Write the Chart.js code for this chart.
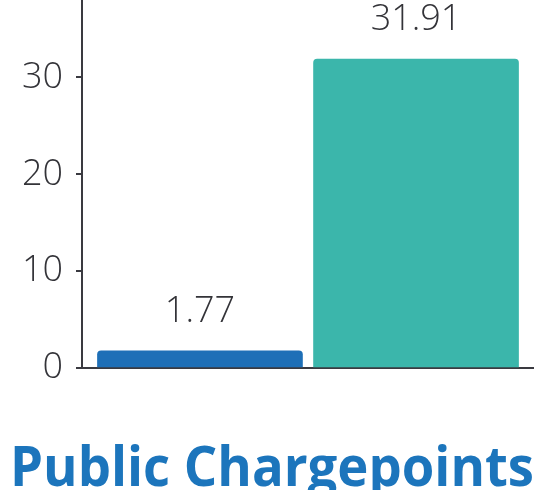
<!DOCTYPE html>
<html>
<head>
<meta charset="utf-8">
<style>
  html, body { margin: 0; padding: 0; background: #fff; overflow: hidden; }
  #wrap { width: 534px; height: 490px; }
</style>
<script src="https://cdn.jsdelivr.net/npm/chart.js@4"></script>
</head>
<body>
<div id="wrap"><canvas id="grafico" width="534" height="490"></canvas></div>
<script>
// data
const categories = ['Series 1', 'Series 2'];
const values = [1.77, 31.91];
const barColors = ['#1e6fb7', '#3bb6ab'];
const yTicks = [0, 10, 20, 30];
const chartTitle = 'Public Chargepoints';

const textColor = '#333338';
const axisColor = '#3a3a40';
const tickFont = { family: 'Open Sans', size: 36, weight: '300' };

// value labels above the bars
const valueLabels = {
    id: 'valueLabels',
    afterDatasetsDraw(chart) {
        const ctx = chart.ctx;
        const meta = chart.getDatasetMeta(0);
        ctx.save();
        ctx.font = '300 36px "Open Sans"';
        ctx.fillStyle = textColor;
        ctx.textAlign = 'center';
        ctx.textBaseline = 'alphabetic';
        meta.data.forEach((bar, i) => {
            ctx.fillText(values[i].toFixed(2), bar.x, bar.y - 29);
        });
        ctx.restore();
    }
};

const ctx = document.getElementById('grafico').getContext('2d');

const myChart = new Chart(ctx, {
    type: 'bar',
    data: {
        labels: categories,
        datasets: [{
            label: chartTitle,
            data: values.map((v, i) => ({ x: i, y: v })),
            backgroundColor: barColors,
            borderRadius: 4,
            borderSkipped: 'start',
            barThickness: 205,
        }],
    },
    options: {
        responsive: false,
        animation: false,
        layout: { padding: { left: 10, right: 0, top: 0, bottom: 0 } },
        plugins: {
            legend: { display: false },
            tooltip: { enabled: false },
            title: {
                display: true,
                text: chartTitle,
                position: 'bottom',
                align: 'start',
                color: '#1c75bc',
                font: { family: 'Open Sans', size: 55, weight: 'bold', lineHeight: 1 },
                padding: { top: 75, bottom: -8 },
            },
        },
        scales: {
            x: {
                type: 'linear',
                offset: false,
                min: -0.546,
                max: 1.546,
                ticks: { display: false },
                grid: { display: false },
                border: { display: true, color: axisColor, width: 2 },
                afterFit(scale) {
                    scale.height = 0;
                },
            },
            y: {
                min: 0,
                max: 38,
                ticks: {
                    stepSize: 10,
                    color: textColor,
                    font: tickFont,
                    padding: 13,
                },
                afterBuildTicks(scale) {
                    scale.ticks = scale.ticks.filter(t => yTicks.includes(t.value));
                },
                afterFit(scale) {
                    scale.width = 72;
                    scale.paddingTop = 0;
                    scale.paddingBottom = 0;
                },
                grid: {
                    drawOnChartArea: false,
                    drawTicks: true,
                    tickLength: 6,
                    color: axisColor,
                    lineWidth: 2,
                },
                border: { display: true, color: axisColor, width: 2 },
            },
        },
    },
    plugins: [valueLabels],
});
</script>
</body>
</html>
